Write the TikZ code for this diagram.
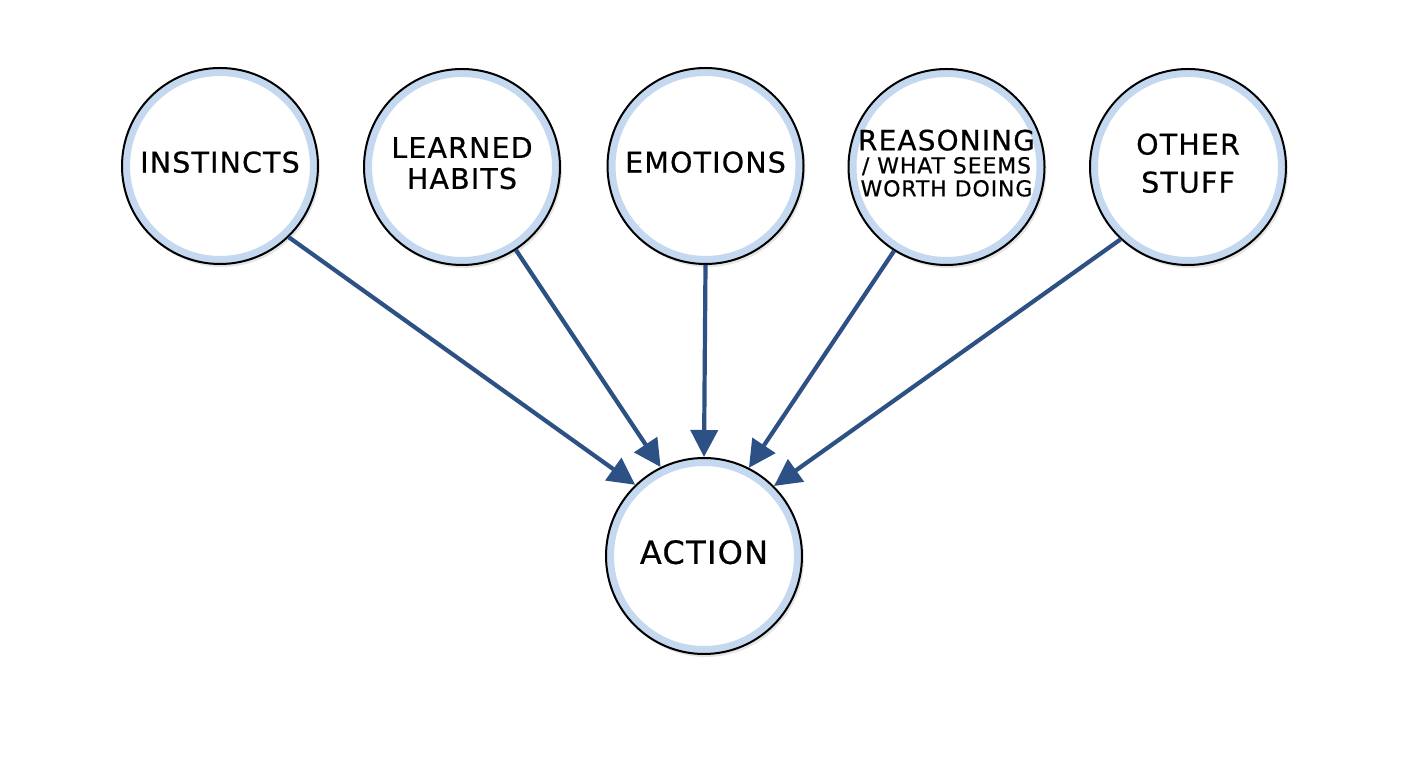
\documentclass[tikz,border=0pt]{standalone}
\usepackage{fontspec}
\setmainfont{DejaVu Sans}[LetterSpace=4,FakeBold=0.6]
\usetikzlibrary{arrows.meta,shadows}
\definecolor{ringblue}{HTML}{C4D8F0}
\definecolor{arrowblue}{HTML}{2D5184}
\tikzset{
  bubble/.style={circle, minimum size=196pt, inner sep=0pt, fill=white,
    draw=black, line width=2pt, text depth=8pt, align=center,
    font=\fontsize{28.5}{31}\selectfont,
    path picture={\draw[ringblue, line width=16pt]
      (path picture bounding box.center) circle[radius=98pt];},
    drop shadow={opacity=0.2, shadow xshift=2pt, shadow yshift=-3pt}},
  link/.style={draw=arrowblue, line width=4.2pt,
    -{Triangle[length=27pt,width=27pt]}}
}
\begin{document}
\begin{tikzpicture}[x=1pt,y=1pt]
\useasboundingbox[fill=white] (0,0) rectangle (1408,768);
\node[bubble] (inst) at (220,602) {INSTINCTS};
\node[bubble] (habits) at (462,601) {LEARNED\\HABITS};
\node[bubble] (emo) at (705.5,602) {EMOTIONS};
\node[bubble, font=\fontsize{28}{23}\selectfont] (reas) at (946.5,601)
  {REASONING\\{\fontsize{22}{23}\selectfont / WHAT SEEMS}\\{\fontsize{22}{23}\selectfont WORTH DOING}};
\node[bubble] (other) at (1188,601) {OTHER\\[7pt]STUFF};
\node[bubble, font=\fontsize{32}{36}\selectfont] (action) at (704,212) {ACTION};
\draw[link] (inst.-46.6) -- (action.134.2);
\draw[link] (habits.-57.4) -- (action.116.6);
\draw[link] (emo.-90) -- (action.90);
\draw[link] (reas.-122.8) -- (action.63.4);
\draw[link] (other.-133.8) -- (action.45.8);
\end{tikzpicture}
\end{document}
